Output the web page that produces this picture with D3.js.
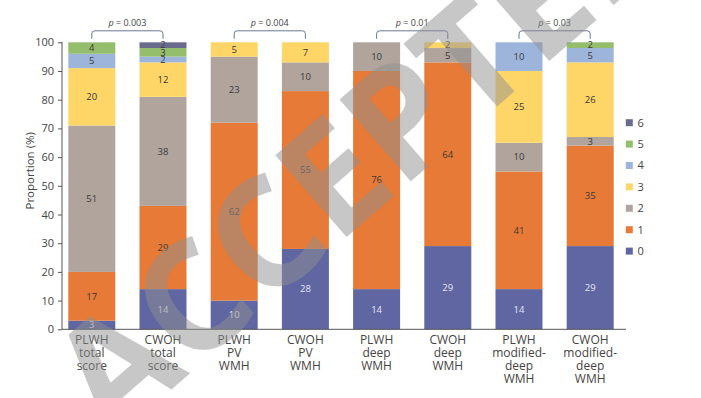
<!DOCTYPE html>
<html>
<head>
<meta charset="utf-8">
<script src="https://cdn.jsdelivr.net/npm/d3@7"></script>
<style>
  html, body { margin: 0; padding: 0; background: #fff; }
  svg { display: block; }
  text { font-family: "Open Sans", "Noto Sans", sans-serif; }
</style>
</head>
<body>
<svg id="chart" width="701" height="398"></svg>
<script>
// ---- data ----
const groupLabels = [
  ["PLWH", "total", "score"],
  ["CWOH", "total", "score"],
  ["PLWH", "PV", "WMH"],
  ["CWOH", "PV", "WMH"],
  ["PLWH", "deep", "WMH"],
  ["CWOH", "deep", "WMH"],
  ["PLWH", "modified-", "deep", "WMH"],
  ["CWOH", "modified-", "deep", "WMH"]
];
const scoreLevels = ["0", "1", "2", "3", "4", "5", "6"];
const score0 = [3, 14, 10, 28, 14, 29, 14, 29];
const score1 = [17, 29, 62, 55, 76, 64, 41, 35];
const score2 = [51, 38, 23, 10, 10, 5, 10, 3];
const score3 = [20, 12, 5, 7, 0, 2, 25, 26];
const score4 = [5, 2, 0, 0, 0, 0, 10, 5];
const score5 = [4, 3, 0, 0, 0, 0, 0, 2];
const score6 = [0, 2, 0, 0, 0, 0, 0, 0];
const yTicks = [0, 10, 20, 30, 40, 50, 60, 70, 80, 90, 100];
const pPairs = [[0, 1], [2, 3], [4, 5], [6, 7]];
const pValues = ["0.003", "0.004", "0.01", "0.03"];
const levelColors = ["#5f66a2", "#e67a36", "#b1a49d", "#fed667", "#9db5da", "#95be6c", "#6b6b8d"];
const watermark = "ACCEPTED";

// ---- build table ----
const seriesValues = [score0, score1, score2, score3, score4, score5, score6];
const keys = groupLabels.map((g, i) => "g" + i);
const table = keys.map((k, i) => {
  const row = { key: k, idx: i };
  scoreLevels.forEach((s, j) => { row[s] = seriesValues[j][i]; });
  return row;
});
const stacked = d3.stack().keys(scoreLevels)(table);

const svg = d3.select("#chart");

const x = d3.scaleBand().domain(keys).range([56.2, 625.8]).paddingInner(0.34).paddingOuter(0.17);
const y = d3.scaleLinear().domain([0, 100]).range([329.3, 42.3]);
const color = d3.scaleOrdinal().domain(scoreLevels).range(levelColors);

const axisX = 62;

// bars
const layer = svg.append("g").selectAll("g").data(stacked).join("g")
  .attr("fill", d => color(d.key));
layer.selectAll("rect").data(d => d.map(v => ({ v, key: d.key })))
  .join("rect")
  .attr("x", d => x(d.v.data.key))
  .attr("y", d => y(d.v[1]))
  .attr("width", x.bandwidth())
  .attr("height", d => y(d.v[0]) - y(d.v[1]));

// value labels
const labels = [];
stacked.forEach(s => s.forEach(v => {
  const val = v[1] - v[0];
  if (val > 0) labels.push({ key: s.key, v, val });
}));
svg.append("g").selectAll("text").data(labels).join("text")
  .attr("x", d => x(d.v.data.key) + x.bandwidth() / 2)
  .attr("y", d => y((d.v[0] + d.v[1]) / 2))
  .attr("dy", "0.35em")
  .attr("text-anchor", "middle")
  .attr("font-size", 9.5)
  .attr("fill", d => d.key === "0" ? "#e6e6f4" : "#3a3a3a")
  .text(d => d.val);

// y axis
const yAxis = d3.axisLeft(y).tickValues(yTicks).tickSize(4).tickPadding(4);
const gy = svg.append("g").attr("transform", `translate(${axisX},0)`).call(yAxis);
gy.select(".domain").attr("stroke", "#555").attr("d", `M0,${y(0)}V${y(100) - 0.5}`);
gy.selectAll(".tick line").attr("stroke", "#555");
gy.selectAll(".tick text").attr("font-size", 11).attr("fill", "#444")
  .attr("font-family", "'Open Sans', sans-serif");

// x axis line
svg.append("line")
  .attr("x1", axisX).attr("x2", 626)
  .attr("y1", y(0)).attr("y2", y(0))
  .attr("stroke", "#555").attr("stroke-width", 1);

// x labels
const xl = svg.append("g").selectAll("text").data(keys).join("text")
  .attr("text-anchor", "middle")
  .attr("font-size", 12)
  .attr("fill", "#444");
xl.each(function (k, i) {
  const t = d3.select(this);
  groupLabels[i].forEach((line, j) => {
    t.append("tspan")
      .attr("x", x(k) + x.bandwidth() / 2)
      .attr("y", 343.5 + j * 13.3)
      .text(line);
  });
});

// y title
svg.append("text")
  .attr("transform", `translate(34,${y(50) - 15}) rotate(-90)`)
  .attr("text-anchor", "middle")
  .attr("font-size", 11.5)
  .attr("fill", "#444")
  .text("Proportion (%)");

// p-value brackets
const pg = svg.append("g");
pPairs.forEach((pair, i) => {
  const x1 = x(keys[pair[0]]) + x.bandwidth() / 2;
  const x2 = x(keys[pair[1]]) + x.bandwidth() / 2;
  const yb = y(100) - 3.5, yt = y(100) - 11.5, r = 3;
  pg.append("path")
    .attr("d", `M${x1},${yb}V${yt + r}Q${x1},${yt} ${x1 + r},${yt}H${x2 - r}Q${x2},${yt} ${x2},${yt + r}V${yb}`)
    .attr("fill", "none").attr("stroke", "#6b7793").attr("stroke-width", 1);
  const t = pg.append("text")
    .attr("x", (x1 + x2) / 2).attr("y", yt - 4.5)
    .attr("text-anchor", "middle").attr("font-size", 9).attr("fill", "#444");
  t.append("tspan").attr("font-style", "italic").text("p");
  t.append("tspan").text(" = " + pValues[i]);
});

// legend
const lg = svg.append("g");
const legendOrder = scoreLevels.slice().reverse();
legendOrder.forEach((s, i) => {
  const cy = 122.7 + i * 21.4;
  lg.append("rect").attr("x", 625.8).attr("y", cy - 3.5).attr("width", 7).attr("height", 7)
    .attr("fill", color(s));
  lg.append("text").attr("x", 637.5).attr("y", cy).attr("dy", "0.36em")
    .attr("font-size", 11).attr("fill", "#444").text(s);
});

// watermark
svg.append("text")
  .attr("transform", "translate(111,442) rotate(-41)")
  .attr("font-family", "'Liberation Sans', Arial, sans-serif")
  .attr("font-weight", "bold")
  .attr("font-size", 152)
  .attr("fill", "#8f8f8f")
  .attr("fill-opacity", 0.5)
  .text(watermark);
</script>
</body>
</html>
